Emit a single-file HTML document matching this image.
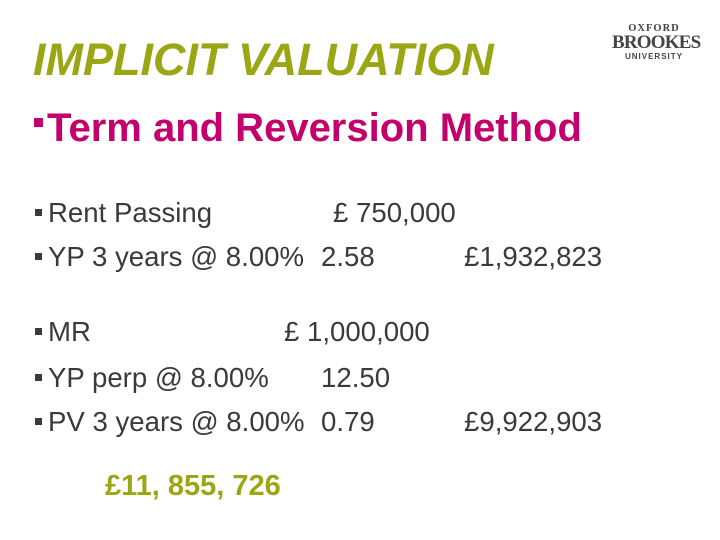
<!DOCTYPE html>
<html><head><meta charset="utf-8"><style>
body{margin:0;width:720px;height:540px;background:#fff;position:relative;overflow:hidden;font-family:"Liberation Sans",sans-serif}
.a{position:absolute;white-space:pre;line-height:1}
.b{font-size:27.6px;color:#3a3a3a}
.sq{position:absolute;width:7px;height:7px;background:#3a3a3a}
</style></head><body>
<div class="a" style="left:33px;top:37px;font-size:45px;font-weight:bold;font-style:italic;color:#9aa614">IMPLICIT VALUATION</div>
<div class="sq" style="left:34px;top:118px;width:9px;height:9px;background:#c3006b"></div>
<div class="a" style="left:47px;top:108px;font-size:40px;font-weight:bold;color:#c3006b">Term and Reversion Method</div>

<div style="position:absolute;left:612px;top:23px;width:84px;text-align:center;color:#444;font-family:'Liberation Serif',serif">
<div style="font-size:10.5px;letter-spacing:1px;line-height:11px;font-weight:bold">OXFORD</div>
<div style="font-size:19px;line-height:18px;letter-spacing:-0.8px;font-weight:bold">BROOKES</div>
<div style="font-size:8px;letter-spacing:1px;line-height:10px;font-weight:bold;font-family:'Liberation Sans',sans-serif">UNIVERSITY</div>
</div>

<div class="sq" style="left:35px;top:209px"></div>
<div class="a b" style="left:48px;top:199px">Rent Passing</div>
<div class="a b" style="left:333px;top:199px">£ 750,000</div>

<div class="sq" style="left:35px;top:253px"></div>
<div class="a b" style="left:48px;top:243px">YP 3 years @ 8.00%</div>
<div class="a b" style="left:321px;top:243px">2.58</div>
<div class="a b" style="left:464px;top:243px">£1,932,823</div>

<div class="sq" style="left:35px;top:328px"></div>
<div class="a b" style="left:48px;top:318px">MR</div>
<div class="a b" style="left:284px;top:318px">£ 1,000,000</div>

<div class="sq" style="left:35px;top:374px"></div>
<div class="a b" style="left:48px;top:364px">YP perp @ 8.00%</div>
<div class="a b" style="left:321px;top:364px">12.50</div>

<div class="sq" style="left:35px;top:418px"></div>
<div class="a b" style="left:48px;top:408px">PV 3 years @ 8.00%</div>
<div class="a b" style="left:321px;top:408px">0.79</div>
<div class="a b" style="left:464px;top:408px">£9,922,903</div>

<div class="a" style="left:105px;top:472px;font-size:29px;font-weight:bold;color:#9aa614">£11, 855, 726</div>
</body></html>
